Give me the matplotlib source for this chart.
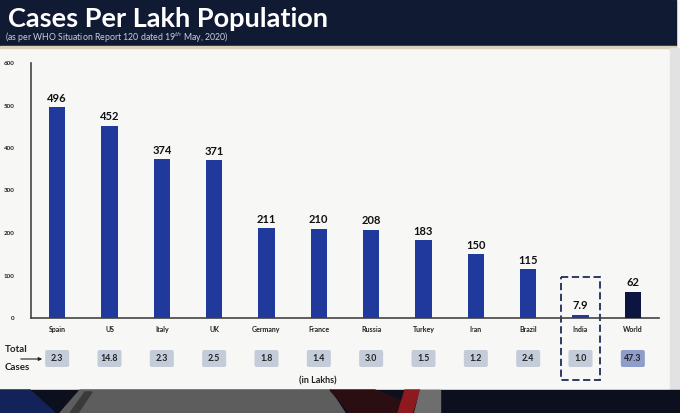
import matplotlib
matplotlib.use("Agg")
import matplotlib.pyplot as plt
from matplotlib.patches import Rectangle, FancyBboxPatch, Polygon

countries = ["Spain", "US", "Italy", "UK", "Germany", "France", "Russia",
             "Turkey", "Iran", "Brazil", "India", "World"]
cases_per_lakh = [496, 452, 374, 371, 211, 210, 208, 183, 150, 115, 7.9, 62]
value_labels = ["496", "452", "374", "371", "211", "210", "208", "183",
                "150", "115", "7.9", "62"]
total_cases = ["2.3", "14.8", "2.3", "2.5", "1.8", "1.4", "3.0", "1.5",
               "1.2", "2.4", "1.0", "47.3"]
yticks = [0, 100, 200, 300, 400, 500, 600]

W, H = 680, 413
fig = plt.figure(figsize=(W / 100, H / 100), dpi=100)
fig.patch.set_facecolor("#f7f7f6")

# background / decoration axes in pixel coords
bg = fig.add_axes([0, 0, 1, 1])
bg.set_xlim(0, W)
bg.set_ylim(H, 0)
bg.axis("off")
bg.add_patch(Rectangle((0, 0), W, H, color="#f7f7f6", zorder=0))
# header band
bg.add_patch(Rectangle((0, 0), 676, 46, color="#101a33", zorder=1))
bg.add_patch(Rectangle((0, 46), 676, 2, color="#d8d2b8", zorder=1))
# right edge strip
bg.add_patch(Rectangle((670, 48), 10, 345, color="#e2e2e2", zorder=1))
# bottom band
bg.add_patch(Rectangle((0, 390), W, 23, color="#0b0f1e", zorder=1))
bg.add_patch(Polygon([[0, 390], [30, 390], [55, 413], [0, 413]], color="#13235a", zorder=2))
bg.add_patch(Polygon([[60, 413], [80, 390], [330, 390], [345, 413]], color="#5d5d5d", zorder=2))
bg.add_patch(Polygon([[70, 413], [85, 392], [92, 392], [78, 413]], color="#3a3a3a", zorder=3))
bg.add_patch(Polygon([[330, 390], [375, 390], [430, 413], [350, 413]], color="#2a0e12", zorder=2))
bg.add_patch(Polygon([[405, 390], [420, 390], [412, 413], [398, 413]], color="#8c1a1e", zorder=3))
bg.add_patch(Polygon([[420, 390], [440, 390], [440, 413], [414, 413]], color="#6e6e6e", zorder=3))

bg.text(8, 19, "Cases Per Lakh Population", color="white", fontsize=19.5,
        fontweight="bold", family="Lato", va="center", ha="left", zorder=5)
bg.text(5, 38, "(as per WHO Situation Report 120 dated 19$^{th}$ May, 2020)",
        color="#c9cfe0", fontsize=6.3, family="Lato", va="center", ha="left", zorder=5)

# chart axes
ax = fig.add_axes([31 / W, (H - 318) / H, (659 - 31) / W, 255 / H])
ax.patch.set_alpha(0)
x = list(range(len(countries)))
colors = ["#1f3a9c"] * 11 + ["#0c1540"]
ax.bar(x, cases_per_lakh, width=0.31, color=colors, zorder=3)
ax.set_xlim(-0.5, 11.5)
ax.set_ylim(0, 600)
ax.set_yticks(yticks)
ax.set_yticklabels([str(t) for t in yticks], fontsize=4.5, fontweight="bold",
                   family="Lato", color="#222222")
ax.tick_params(axis="y", length=0, pad=12)
ax.set_xticks(x)
ax.set_xticklabels(countries, fontsize=5, fontweight="bold", family="Lato", color="#222222")
ax.tick_params(axis="x", length=0, pad=6)
for s in ["top", "right"]:
    ax.spines[s].set_visible(False)
ax.spines["left"].set_color("#444444")
ax.spines["bottom"].set_color("#444444")
ax.spines["left"].set_linewidth(1.2)
ax.spines["bottom"].set_linewidth(1.2)
for xi, v, lab in zip(x, cases_per_lakh, value_labels):
    ax.text(xi, v + 8, lab, ha="center", va="bottom", fontsize=8,
            fontweight="bold", family="Lato", color="#111111")

# total cases boxes
for xi, tc in zip(x, total_cases):
    px = 31 + (xi + 0.5) * (659 - 31) / 12
    fc = "#8e9dc9" if tc == "47.3" else "#c3ccd8"
    bg.add_patch(FancyBboxPatch((px - 12, 350), 24, 17,
                                boxstyle="round,pad=0,rounding_size=2",
                                fc=fc, ec="none", zorder=4))
    bg.text(px, 358.5, tc, ha="center", va="center", fontsize=6.3,
            fontweight="bold", family="Lato", color="#222222", zorder=5)

bg.text(5, 350, "Total", fontsize=7, fontweight="bold", family="Lato",
        color="#222222", va="center", zorder=5)
bg.text(5, 367, "Cases", fontsize=7, fontweight="bold", family="Lato",
        color="#222222", va="center", zorder=5)
bg.annotate("", xy=(45, 359), xytext=(18, 359),
            arrowprops=dict(arrowstyle="-|>", color="#222222", lw=0.8,
                            mutation_scale=5), zorder=5)
bg.text(318, 381, "(in Lakhs)", fontsize=6.5, fontweight="bold", family="Lato",
        color="#222222", ha="center", va="center", zorder=5)

# India dashed box
bg.add_patch(Rectangle((561, 277), 39, 103, fill=False, ec="#1c2c5a",
                       lw=1.3, ls=(0, (4, 2)), zorder=5))

fig.savefig("out.png", dpi=100, facecolor=fig.get_facecolor())
